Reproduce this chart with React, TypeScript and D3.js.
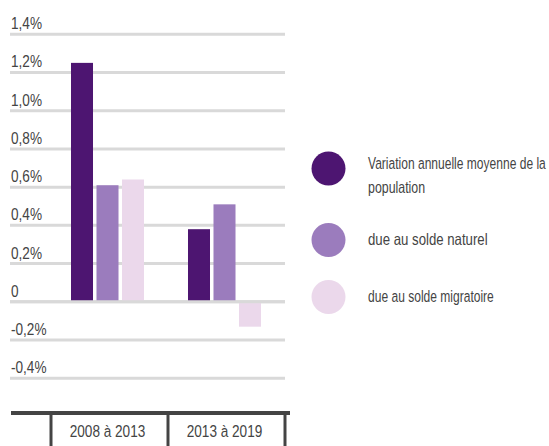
import React from "react";
import * as d3 from "d3";

const categories = ["2008 à 2013", "2013 à 2019"];
const seriesNames = [
  "Variation annuelle moyenne de la population",
  "due au solde naturel",
  "due au solde migratoire",
];
const totalVar = [1.25, 0.38];
const soldeNaturel = [0.61, 0.51];
const soldeMigratoire = [0.64, -0.13];
const yTicks = [-0.4, -0.2, 0, 0.2, 0.4, 0.6, 0.8, 1.0, 1.2, 1.4];
const colors = ["#4d1571", "#9b7cbd", "#ebd8eb"];

const FONT = "'Liberation Sans', Arial, sans-serif";
const TEXT = "#444444";

function fmt(v: number) {
  if (Math.abs(v) < 1e-9) return "0";
  return v.toFixed(1).replace(".", ",") + "%";
}

function T({ x, y, children, anchor = "start", size = 17, sx = 0.8 }: { x: number; y: number; children: React.ReactNode; anchor?: string; size?: number; sx?: number }) {
  return (
    <text
      transform={`translate(${x},${y}) scale(${sx},1)`}
      fontSize={size}
      fill={TEXT}
      textAnchor={anchor as any}
    >
      {children}
    </text>
  );
}

export default function App() {
  const W = 549, H = 446;
  const y = d3.scaleLinear().domain([-0.4, 1.4]).range([378.3, 34.2]);
  const xAxis = d3.scaleBand<string>().domain(categories).range([51, 285]);
  const x0 = d3.scaleBand<string>().domain(categories).range([49, 283]).paddingInner(0.376).paddingOuter(0.188);
  const series = [totalVar, soldeNaturel, soldeMigratoire];
  const x1 = d3.scaleBand<number>().domain([0, 1, 2]).range([0, x0.bandwidth()]).paddingInner(0.137);

  return (
    <svg width={W} height={H} style={{ position: "absolute", left: 0, top: 0 }} fontFamily={FONT}>
      {yTicks.map((t) => (
        <g key={t}>
          <line x1={10} x2={285} y1={y(t)} y2={y(t)} stroke="#d9d9d9" strokeWidth={3} />
          <T x={11} y={y(t) - 5}>{fmt(t)}</T>
        </g>
      ))}
      {categories.map((c, ci) =>
        series.map((s, si) => {
          const v = s[ci];
          const y0 = y(0), y1 = y(v);
          return (
            <rect
              key={c + si}
              x={(x0(c) as number) + (x1(si) as number)}
              y={Math.min(y0, y1)}
              width={x1.bandwidth()}
              height={Math.abs(y1 - y0)}
              fill={colors[si]}
            />
          );
        })
      )}
      <line x1={10} x2={285} y1={y(0)} y2={y(0)} stroke="#d9d9d9" strokeWidth={3} />
      <line x1={11} x2={290} y1={413} y2={413} stroke="#444" strokeWidth={4} />
      {[51, 168, 285].map((xx) => (
        <line key={xx} x1={xx} x2={xx} y1={413} y2={446} stroke="#444" strokeWidth={3} />
      ))}
      {categories.map((c) => (
        <T key={c} x={(xAxis(c) as number) + xAxis.bandwidth() / 2 - 2} y={437} anchor="middle">{c}</T>
      ))}
      {/* legend */}
      <circle cx={328.5} cy={168.5} r={17} fill={colors[0]} />
      <T x={368} y={169} size={16.5} sx={0.73}>Variation annuelle moyenne de la</T>
      <T x={368} y={193} size={16.5} sx={0.75}>population</T>
      <circle cx={328.5} cy={240} r={17} fill={colors[1]} />
      <T x={368} y={245} size={16.5} sx={0.8}>{seriesNames[1]}</T>
      <circle cx={328.5} cy={297} r={17} fill={colors[2]} />
      <T x={368} y={302} size={16.5} sx={0.73}>{seriesNames[2]}</T>
    </svg>
  );
}
